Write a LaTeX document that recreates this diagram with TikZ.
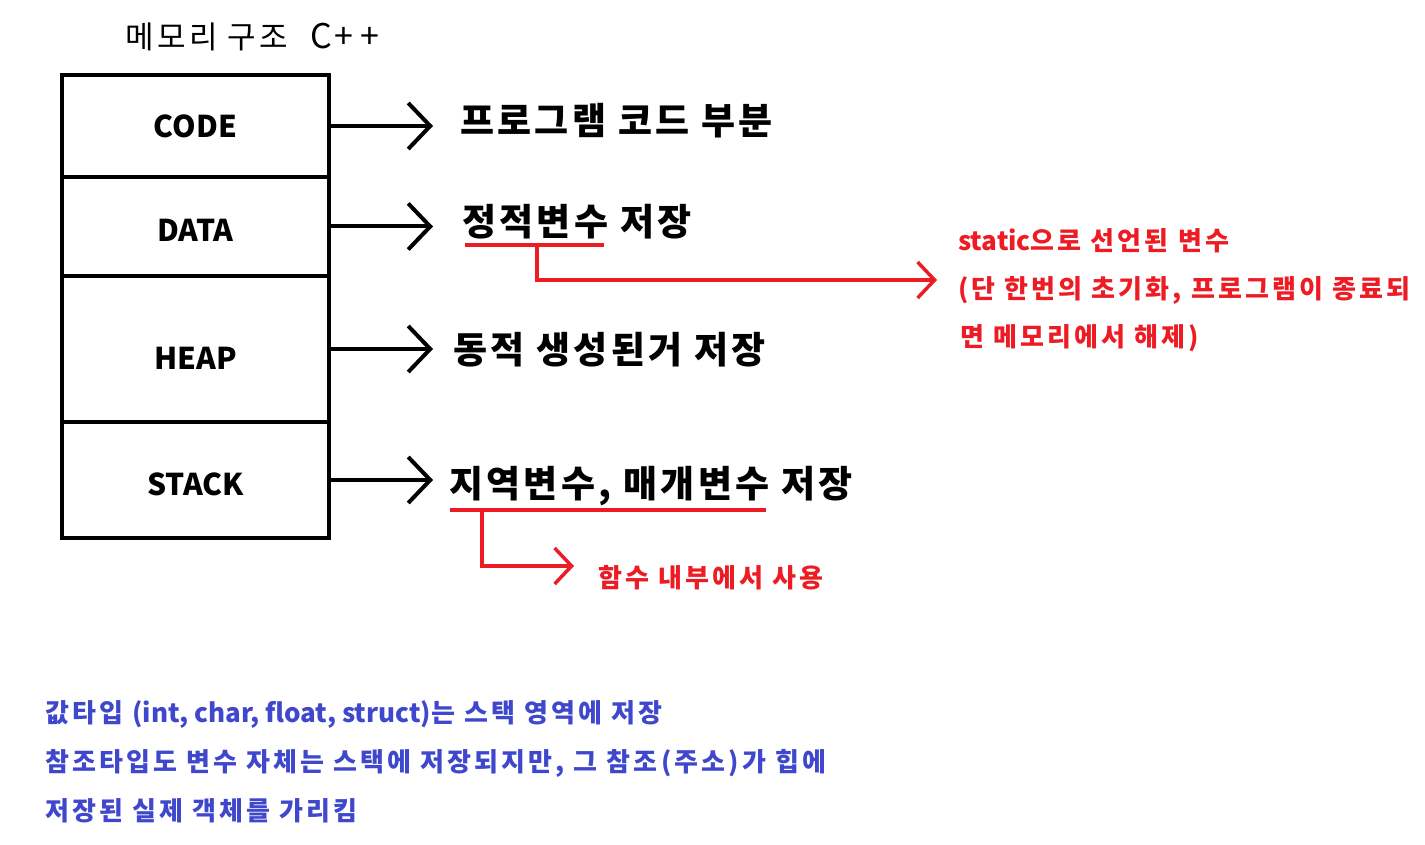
\documentclass[tikz,border=0pt]{standalone}
\usepackage{fontspec}
\setmainfont{Noto Sans CJK KR}
\newfontfamily\krtitle{Noto Sans CJK KR}[LetterSpace=11]
\newfontfamily\krblack{Noto Sans CJK KR}[LetterSpace=9]
\newfontfamily\krred{Noto Sans CJK KR}[LetterSpace=12]
\newfontfamily\krblue{Noto Sans CJK KR}[LetterSpace=12]
\usetikzlibrary{arrows.meta}

\definecolor{paintred}{RGB}{237,28,36}
\definecolor{paintblue}{RGB}{63,72,204}

\begin{document}
\begin{tikzpicture}[x=1pt,y=-1pt,
  seg/.style={draw,line width=4pt,minimum width=267pt,inner sep=0pt,font=\fontsize{30}{30}\selectfont\bfseries},
  note/.style={anchor=west,inner sep=0pt,font=\fontsize{37}{37}\selectfont\krblack\bfseries},
  blk/.style={-{Straight Barb[length=22pt,width=46pt]},line width=4pt},
  redline/.style={paintred,line width=3.5pt},
  redarr/.style={redline,-{Straight Barb[length=17pt,width=36pt]}},
  redtxt/.style={anchor=west,inner sep=0pt,text=paintred,font=\fontsize{26}{26}\selectfont\krred\bfseries},
  bluetxt/.style={anchor=west,inner sep=0pt,text=paintblue,font=\fontsize{26}{26}\selectfont\krblue\bfseries}]

\useasboundingbox (0,0) rectangle (1425,845);

% Title
\node[anchor=west,inner sep=0pt,font=\fontsize{31}{31}\selectfont\krtitle] (title) at (125,37) {메모리 구조\hspace{22pt}{\rmfamily\fontsize{34}{34}\selectfont C\hspace{2pt}+\hspace{8pt}+}};

% Memory segments
\node[seg,minimum height=102pt] (code) at (195.5,126) {CODE};
\node[seg,minimum height=99pt] (data) at (195.5,226.5) {\raisebox{-3.5pt}[\height][\depth]{DATA}};
\node[seg,minimum height=146pt] (heap) at (195.5,349) {\raisebox{-9pt}[\height][\depth]{HEAP}};
\node[seg,minimum height=116pt] (stack) at (195.5,480) {\raisebox{-4pt}[\height][\depth]{STACK}};

% Descriptions
\node[note] (codetxt) at (460,121) {프로그램 코드 부분};
\node[note] (datatxt) at (462,222) {정적변수 저장};
\node[note] (heaptxt) at (453,350) {동적 생성된거 저장};
\node[note] (stacktxt) at (449,486) {지역변수, 매개변수 저장};

% Arrows to descriptions
\coordinate (tipx) at (433,0);
\foreach \s in {code,data,heap,stack}
{
\draw[blk] (\s.east) -- (\s.east -| tipx);
}

% Static note
\draw[redline] (465,245) -- (604,245);
\coordinate (dataul) at (537,245);
\coordinate (staticpt) at (937,280);
\draw[redarr] (dataul) |- (staticpt);
\node[redtxt] (static1) at (958,241) {{\rmfamily static}으로 선언된 변수};
\node[redtxt] (static2) at (958,290) {(단 한번의 초기화, 프로그램이 종료되};
\node[redtxt] (static3) at (960,338) {면 메모리에서 해제)};

% Local note
\draw[redline] (450,510) -- (766,510);
\coordinate (stackul) at (482,510);
\coordinate (usagept) at (574,566);
\draw[redarr] (stackul) |- (usagept);
\node[redtxt] (usage) at (598,578) {함수 내부에서 사용};

% Value / reference types
\node[bluetxt] (value) at (45,714) {값타입 {\rmfamily (int, char, float, struct)}는 스택 영역에 저장};
\node[bluetxt] (ref1) at (45,763) {참조타입도 변수 자체는 스택에 저장되지만, 그 참조(주소)가 힙에};
\node[bluetxt] (ref2) at (45,811) {저장된 실제 객체를 가리킴};

\end{tikzpicture}
\end{document}
